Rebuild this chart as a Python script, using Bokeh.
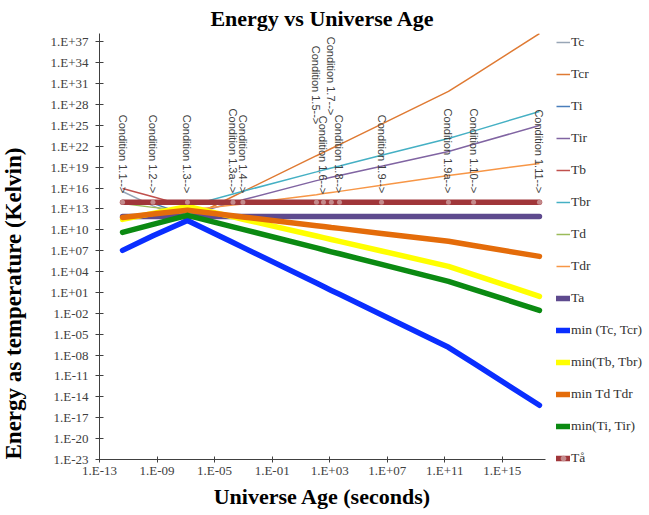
import math
from bokeh.plotting import figure
from bokeh.models import (ColumnDataSource, FixedTicker, CustomJSTickFormatter,
                          Legend, Title, Range1d)
from bokeh.embed import file_html
from bokeh.resources import INLINE
from bokeh.core.properties import value

# ---------------- data ----------------
conditions = ["Condition 1.1-->", "Condition 1.2-->", "Condition 1.3-->", "Condition 1.3a-->",
              "Condition 1.4-->", "Condition 1.5-->", "Condition 1.6-->", "Condition 1.7-->",
              "Condition 1.8-->", "Condition 1.9-->", "Condition 1.9a-->", "Condition 1.10-->",
              "Condition 1.11-->"]
ages = [4.0e-12, 5.2e-10, 1.3e-7, 1.9e-4, 9.3e-4, 1.2e2, 3.7e2, 1.3e3, 4.8e3, 4.0e6, 1.8e11, 1.0e13, 3.8e17]

tc = [3.2e15, 2.7e13, 2.2e11, 1.5e8, 3.0e7, 2.2e2, 7.1e1, 1.95e1, 5.4e0, 6.3e-3, 1.3e-7, 6.9e-10, 6.2e-16]
tcr = [1.1e7, 1.5e9, 3.9e11, 6.0e14, 3.0e15, 4.4e20, 1.35e21, 4.8e21, 1.74e22, 1.55e25, 7.6e29, 1.45e32, 1.55e38]
ti = [1.6e14, 6.3e13, 1.2e12, 2.6e10, 1.15e10, 2.5e7, 1.35e7, 6.9e6, 3.6e6, 1.05e5, 3.9e2, 2.8e1, 2.7e-2]
tir = [4.3e9, 6.0e10, 1.2e12, 8.1e13, 2.0e14, 1.15e17, 1.9e17, 3.5e17, 6.3e17, 1.35e19, 1.8e21, 1.9e22, 9.8e24]
tb = [8.7e15, 5.5e14, 2.3e13, 7.1e11, 3.3e11, 1.26e9, 7.4e8, 4.1e8, 2.2e8, 9.1e6, 5.6e4, 3.7e3, 2.75e0]
tbr = [3.1e11, 2.3e12, 2.3e13, 1.4e15, 3.4e15, 2.1e18, 3.9e18, 7.6e18, 1.45e19, 5.0e20, 1.3e23, 1.5e24, 1.0e27]
td = [6.2e13, 1.66e13, 6.2e12, 1.02e12, 6.9e11, 3.9e10, 3.0e10, 2.1e10, 1.6e10, 3.0e9, 2.2e8, 5.6e7, 1.5e6]
tdr = [6.0e11, 1.8e12, 6.2e12, 3.5e13, 5.2e13, 1.1e15, 1.6e15, 2.3e15, 3.3e15, 2.5e16, 6.5e17, 1.9e18, 3.4e19]
ta = [7.9e11] * 13
min_tc_tcr = [1.1e7, 1.4e9, 2.2e11, 1.5e8, 3.0e7, 2.2e2, 7.1e1, 1.95e1, 5.4e0, 6.3e-3, 1.3e-7, 6.9e-10, 6.2e-16]
min_tb_tbr = [3.1e11, 2.3e12, 2.3e13, 7.1e11, 3.3e11, 1.26e9, 7.4e8, 4.1e8, 2.2e8, 9.1e6, 5.6e4, 3.7e3, 2.75e0]
min_td_tdr = [6.0e11, 1.8e12, 6.2e12, 1.02e12, 6.9e11, 3.9e10, 3.0e10, 2.1e10, 1.6e10, 3.0e9, 2.2e8, 5.6e7, 1.5e6]
min_ti_tir = [4.3e9, 6.0e10, 1.2e12, 2.6e10, 1.15e10, 2.5e7, 1.35e7, 6.9e6, 3.6e6, 1.05e5, 3.9e2, 2.8e1, 2.7e-2]
ta_ring = [8.9e13] * 13

x_tick_exponents = [-13, -9, -5, -1, 3, 7, 11, 15]
y_tick_exponents = list(range(-23, 38, 3))

# label placement (screen px above the point)
label_offsets = [-9, -9, -9, -9, -9, -78, -8, -87, -9, -9, -9, -9, -9]

SERIF = "Liberation Serif"
SANS = "Liberation Sans"

p = figure(frame_width=446, frame_height=426, x_axis_type="log", y_axis_type="log",
           x_range=Range1d(1e-13, 1e18), y_range=Range1d(1e-23, 1.58e38),
           output_backend="svg", toolbar_location=None,
           min_border_left=99, min_border_right=100, min_border_top=30, min_border_bottom=45,
           title="Energy vs Universe Age")
p.background_fill_color = "white"
p.border_fill_color = "white"
p.outline_line_color = None
p.grid.visible = False

# title
p.title.align = "center"
p.title.text_font = SERIF
p.title.text_font_size = "22px"
p.title.text_font_style = "bold"
p.title.text_color = "black"
if "standoff" in p.title.properties():
    p.title.standoff = 6

fmt = CustomJSTickFormatter(code="""
const e = Math.round(Math.log10(tick));
const a = Math.abs(e);
return '1.E' + (e < 0 ? '-' : '+') + (a < 10 ? '0' + a : String(a));
""")

p.xaxis.ticker = FixedTicker(ticks=[10.0 ** e for e in x_tick_exponents], minor_ticks=[])
p.yaxis.ticker = FixedTicker(ticks=[10.0 ** e for e in y_tick_exponents], minor_ticks=[])
p.xaxis.formatter = fmt
p.yaxis.formatter = fmt
for ax in (p.xaxis, p.yaxis):
    ax.axis_line_color = "#404040"
    ax.major_tick_line_color = "#404040"
    ax.minor_tick_line_color = None
    ax.major_label_text_font = SERIF
    ax.major_label_text_font_size = "13px"
    ax.major_label_text_color = "#404040"
p.xaxis.major_tick_in = 3
p.xaxis.major_tick_out = 3
p.xaxis.major_label_standoff = 0
p.yaxis.major_tick_in = 4
p.yaxis.major_tick_out = 4
p.yaxis.major_label_standoff = 7
# blank axis label on the value axis: only reserves room between tick labels and the title
p.yaxis.axis_label = " "
p.yaxis.axis_label_text_font_size = "16px"
p.yaxis.axis_label_standoff = 0

p.xaxis.axis_label = "Universe Age (seconds)"
p.xaxis.axis_label_text_font = SERIF
p.xaxis.axis_label_text_font_size = "22px"
p.xaxis.axis_label_text_font_style = "bold"
p.xaxis.axis_label_text_color = "black"
p.xaxis.axis_label_standoff = 3

ytitle = Title(text="Energy  as temperature  (Kelvin)", align="left", vertical_align="top",
               text_font=SERIF, text_font_size="23px", text_font_style="bold", text_color="black")
if "standoff" in ytitle.properties():
    ytitle.standoff = 0
p.add_layout(ytitle, "left")

thin = 1.5
thick = 5.5
r_tc = p.line(ages, tc, line_color="#98A6B6", line_width=thin)
r_tcr = p.line(ages, tcr, line_color="#DF7A33", line_width=thin)
r_ti = p.line(ages, ti, line_color="#4A7EBB", line_width=thin)
r_tir = p.line(ages, tir, line_color="#8064A2", line_width=thin)
r_tb = p.line(ages, tb, line_color="#C0504D", line_width=thin)
r_tbr = p.line(ages, tbr, line_color="#45B0C4", line_width=thin)
r_td = p.line(ages, td, line_color="#9BBB59", line_width=thin)
r_tdr = p.line(ages, tdr, line_color="#F79646", line_width=thin)
r_ta = p.line(ages, ta, line_color="#5E4A8E", line_width=thick, line_cap="round", line_join="round")
r_m1 = p.line(ages, min_tc_tcr, line_color="#0A2EFF", line_width=thick, line_cap="round", line_join="round")
r_m2 = p.line(ages, min_tb_tbr, line_color="#FFFF00", line_width=thick, line_cap="round", line_join="round")
r_m3 = p.line(ages, min_td_tdr, line_color="#E46C0A", line_width=thick, line_cap="round", line_join="round")
r_m4 = p.line(ages, min_ti_tir, line_color="#0B8A12", line_width=thick, line_cap="round", line_join="round")
r_tr = p.line(ages, ta_ring, line_color="#A0363A", line_width=thick, line_cap="round", line_join="round")
r_trm = p.scatter(ages, ta_ring, size=5, fill_color="#C48A8C", line_color=None)

src = ColumnDataSource(dict(x=ages, y=ta_ring, text=conditions, yoff=label_offsets))
p.text(x="x", y="y", text="text", source=src, angle=-math.pi / 2, text_align="right",
       text_baseline="middle", y_offset="yoff", text_font=value(SANS),
       text_font_size=value("11px"), text_color="#404040")

legend = Legend(items=[("Tc", [r_tc]), ("Tcr", [r_tcr]), ("Ti", [r_ti]), ("Tir", [r_tir]),
                       ("Tb", [r_tb]), ("Tbr", [r_tbr]), ("Td", [r_td]), ("Tdr", [r_tdr]),
                       ("Ta", [r_ta]), ("min (Tc, Tcr)", [r_m1]), ("min(Tb, Tbr)", [r_m2]),
                       ("min Td Tdr", [r_m3]), ("min(Ti, Tir)", [r_m4]), ("Tå", [r_tr, r_trm])],
                location=(11, -7), glyph_width=14, glyph_height=16, label_height=16,
                spacing=16, padding=1, margin=0, label_standoff=1,
                border_line_color=None, background_fill_alpha=0,
                label_text_font=SERIF, label_text_font_size="13.5px", label_text_color="#333333")
p.add_layout(legend, "right")

open("out.html", "w").write(file_html(p, INLINE))
